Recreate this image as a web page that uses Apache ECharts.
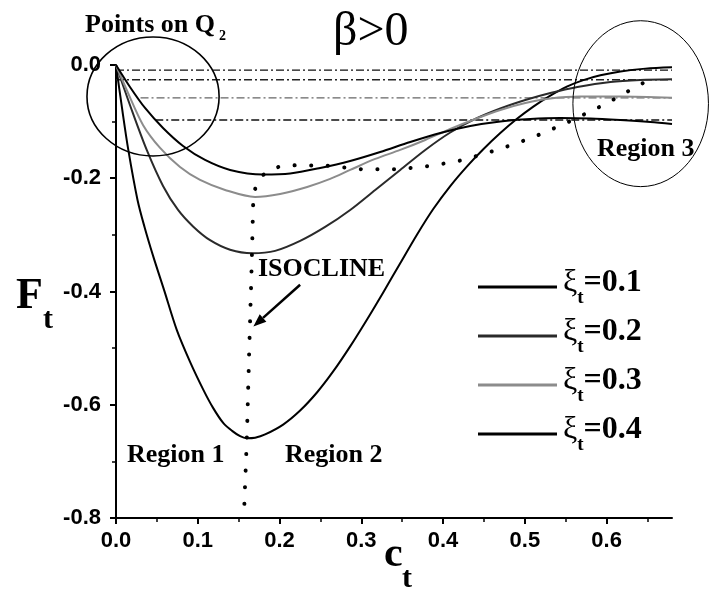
<!DOCTYPE html>
<html><head><meta charset="utf-8">
<script src="https://cdn.jsdelivr.net/npm/echarts@6/dist/echarts.min.js"></script>
<style>html,body{margin:0;padding:0;background:#fff}#c{width:710px;height:597px}</style>
</head><body><div id="c"></div>
<script>
// ---- data ----
const xiValues = ['0.1', '0.2', '0.3', '0.4'];
const c01 = [0, 0.00734, 0.01506, 0.02632, 0.03488, 0.04565, 0.05875, 0.0743, 0.09058, 0.10686, 0.11873, 0.13133, 0.14198, 0.15177, 0.15973, 0.17014, 0.18238, 0.20441, 0.22521, 0.24602, 0.26561, 0.28641, 0.30722, 0.32681, 0.34761, 0.36842, 0.388, 0.40881, 0.42962, 0.4492, 0.47001, 0.49082, 0.5104, 0.53121, 0.55202, 0.5716, 0.59241, 0.61689, 0.64749, 0.68];
const F01 = [0, -0.0759, -0.1500, -0.2383, -0.2860, -0.3384, -0.3972, -0.4678, -0.5243, -0.5737, -0.6055, -0.6325, -0.6461, -0.6554, -0.6590, -0.6581, -0.6524, -0.6350, -0.6102, -0.5779, -0.5412, -0.4969, -0.4489, -0.4016, -0.3502, -0.2989, -0.2544, -0.2138, -0.1785, -0.1488, -0.1202, -0.0946, -0.0734, -0.0540, -0.0376, -0.0267, -0.0182, -0.0113, -0.0064, -0.0041];
const c02 = [0, 0.01836, 0.03758, 0.05753, 0.07589, 0.09425, 0.11506, 0.13954, 0.16646, 0.19461, 0.22521, 0.25581, 0.28641, 0.31701, 0.34761, 0.37821, 0.40881, 0.43941, 0.47001, 0.50061, 0.53121, 0.56426, 0.60465, 0.64137, 0.68];
const F02 = [0, -0.0759, -0.1500, -0.2136, -0.2560, -0.2851, -0.3094, -0.3262, -0.3324, -0.3283, -0.3107, -0.2860, -0.2560, -0.2207, -0.1853, -0.1500, -0.1192, -0.0953, -0.0768, -0.0618, -0.0494, -0.0388, -0.0300, -0.0265, -0.0252];
const c03 = [0, 0.0147, 0.0330, 0.0539, 0.0783, 0.1028, 0.1334, 0.1701, 0.2007, 0.2338, 0.2619, 0.2864, 0.3170, 0.3476, 0.3782, 0.4088, 0.4394, 0.47, 0.5006, 0.5312, 0.5679, 0.6169, 0.68];
const F03 = [0, -0.0494, -0.1059, -0.1465, -0.1801, -0.2030, -0.2207, -0.2330, -0.2277, -0.2154, -0.2012, -0.1853, -0.1659, -0.1500, -0.1324, -0.1130, -0.0953, -0.0794, -0.0671, -0.0591, -0.0556, -0.0556, -0.0577];
const c04 = [0, 0.0171, 0.0355, 0.0575, 0.0820, 0.1089, 0.1395, 0.1799, 0.2130, 0.2497, 0.2864, 0.3231, 0.3599, 0.3966, 0.4333, 0.47, 0.5067, 0.5435, 0.5802, 0.6169, 0.6536, 0.68];
const F04 = [0, -0.0388, -0.0759, -0.1112, -0.1430, -0.1677, -0.1853, -0.1933, -0.1915, -0.1818, -0.1695, -0.1536, -0.1359, -0.1200, -0.1077, -0.0997, -0.0953, -0.0936, -0.0944, -0.0971, -0.1006, -0.1041];
const isoC = [0.157, 0.160, 0.163, 0.166, 0.168, 0.172, 0.18, 0.20, 0.22, 0.26, 0.30, 0.345, 0.386, 0.424, 0.466, 0.508, 0.55, 0.59, 0.611, 0.633, 0.657];
const isoF = [-0.775, -0.66, -0.50, -0.35, -0.23, -0.21, -0.194, -0.179, -0.177, -0.178, -0.184, -0.184, -0.178, -0.168, -0.150, -0.129, -0.103, -0.075, -0.059, -0.041, -0.022];
const asymF = [-0.009, -0.026, -0.058, -0.097];
const asymStart = [0, 0, 0.03, 0.048];
const asymEnd = 0.68;
const xTicks = [0, 0.1, 0.2, 0.3, 0.4, 0.5, 0.6];
const yTicks = [-0.8, -0.6, -0.4, -0.2, 0];

// ---- styles ----
const SERIF = '"Liberation Serif","Times New Roman",serif';
const SANS = '"Liberation Sans",Arial,sans-serif';
const curveColors = ['#000', '#2a2a2a', '#8c8c8c', '#000'];
const asymColors = ['#111', '#222', '#666', '#111'];

const zip = (a, b) => a.map((v, i) => [v, b[i]]);
const curves = [[c01, F01], [c02, F02], [c03, F03], [c04, F04]];

const series = curves.map((cv, i) => ({
  name: 'ξ=' + xiValues[i],
  type: 'line', data: zip(cv[0], cv[1]), smooth: 0.3, symbol: 'none', silent: true,
  lineStyle: { color: curveColors[i], width: 2 }, itemStyle: { color: curveColors[i] }, z: 3
}));
asymF.forEach((f, i) => series.push({
  name: 'asym' + i, type: 'line', symbol: 'none', silent: true,
  data: [[asymStart[i], f], [asymEnd, f]],
  lineStyle: { color: asymColors[i], width: i === 2 ? 1.1 : 1.4, type: [8, 3, 2, 3] }, z: 2
}));
series.push({
  name: 'isocline', type: 'line', symbol: 'none', silent: true, smooth: false,
  data: zip(isoC, isoF),
  lineStyle: { color: '#000', width: 4, type: [0.1, 16.5], cap: 'round' }, z: 4
});

const chart = echarts.init(document.getElementById('c'), null, { renderer: 'canvas' });
const option = {
  animation: false,
  backgroundColor: '#fff',
  grid: { left: 116, right: 38, top: 65, bottom: 79 },
  xAxis: {
    type: 'value', min: 0, max: 0.68, interval: 0.1,
    axisLine: { onZero: false, lineStyle: { color: '#000', width: 2 } },
    axisTick: { show: true, length: 6, lineStyle: { color: '#000', width: 2 }, customValues: xTicks },
    minorTick: { show: true, splitNumber: 2, length: 4, lineStyle: { color: '#000', width: 1.5 } },
    axisLabel: { customValues: xTicks, formatter: v => v.toFixed(1), fontFamily: SANS, fontWeight: 'bold', fontSize: 22, color: '#000', margin: 12 },
    splitLine: { show: false }
  },
  yAxis: {
    type: 'value', min: -0.8, max: 0, interval: 0.2,
    axisLine: { onZero: false, lineStyle: { color: '#000', width: 2 } },
    axisTick: { show: true, length: 6, lineStyle: { color: '#000', width: 2 }, customValues: yTicks },
    minorTick: { show: true, splitNumber: 2, length: 4, lineStyle: { color: '#000', width: 1.5 } },
    axisLabel: { customValues: yTicks, formatter: v => v.toFixed(1), fontFamily: SANS, fontWeight: 'bold', fontSize: 22, color: '#000', margin: 15 },
    splitLine: { show: false }
  },
  legend: {
    data: xiValues.map(v => 'ξ=' + v),
    orient: 'vertical', left: 473, top: 262,
    itemWidth: 79, itemHeight: 3, itemGap: 8, icon: 'rect',
    selectedMode: false,
    formatter: name => '{a|ξ}{b|t}{c|=' + name.split('=')[1] + '}',
    textStyle: {
      color: '#000',
      rich: {
        a: { fontFamily: SERIF, fontSize: 32, color: '#000', padding: [0, 0, 0, 1], verticalAlign: 'top', lineHeight: 40 },
        b: { fontFamily: SERIF, fontSize: 19, fontWeight: 'bold', color: '#000', verticalAlign: 'top', padding: [22, 0, 0, 0], lineHeight: 40 },
        c: { fontFamily: SERIF, fontSize: 32, fontWeight: 'bold', color: '#000', verticalAlign: 'top', lineHeight: 40 }
      }
    }
  },
  series: series
};
chart.setOption(option);

// ---- annotations (data-space geometry) ----
const P = (c, f) => chart.convertToPixel({ gridIndex: 0 }, [c, f]);
function ellipseAt(cc, cf, rc, rf, lw) {
  const ctr = P(cc, cf), ex = P(cc + rc, cf), ey = P(cc, cf + rf);
  return { type: 'ellipse', silent: true, z: 10,
    shape: { cx: ctr[0], cy: ctr[1], rx: Math.abs(ex[0] - ctr[0]), ry: Math.abs(ey[1] - ctr[1]) },
    style: { fill: null, stroke: '#000', lineWidth: lw } };
}
// x = left edge, base = desired baseline
function txt(text, x, base, size, weight, family) {
  return { type: 'text', silent: true, z: 10, x: x, y: base + 0.2 * size,
    style: { text: text, font: weight + ' ' + size + 'px ' + family, fill: '#000', textAlign: 'left', textVerticalAlign: 'bottom' } };
}
const a0 = P(0.2252, -0.388), a1 = P(0.168, -0.462);
const ang = Math.atan2(a1[1] - a0[1], a1[0] - a0[0]);
const hl = 13, hw = 5;
const base = [a1[0] - hl * Math.cos(ang), a1[1] - hl * Math.sin(ang)];
const arrowHead = [a1, [base[0] + hw * Math.sin(ang), base[1] - hw * Math.cos(ang)], [base[0] - hw * Math.sin(ang), base[1] + hw * Math.cos(ang)]];

chart.setOption({
  graphic: [
    ellipseAt(0.0453, -0.0556, 0.0808, 0.105, 1.6),
    ellipseAt(0.6417, -0.0683, 0.0829, 0.1465, 1),
    { type: 'line', silent: true, z: 10, shape: { x1: a0[0], y1: a0[1], x2: base[0], y2: base[1] }, style: { stroke: '#000', lineWidth: 2.5 } },
    { type: 'polygon', silent: true, z: 10, shape: { points: arrowHead }, style: { fill: '#000' } },
    txt('Points on Q', 85, 33, 26, 'bold', SERIF),
    txt('2', 219, 41, 14, 'bold', SERIF),
    txt('β>0', 333, 47, 48, 'normal', SERIF),
    txt('ISOCLINE', 258, 277, 26, 'bold', SERIF),
    txt('Region 1', 127, 463, 26, 'bold', SERIF),
    txt('Region 2', 285, 463, 26, 'bold', SERIF),
    txt('Region 3', 597, 157, 26, 'bold', SERIF),
    txt('F', 16, 310, 44, 'bold', SERIF),
    txt('t', 43, 329, 30, 'bold', SERIF),
    txt('c', 384, 568, 42, 'bold', SERIF),
    txt('t', 402, 588, 30, 'bold', SERIF)
  ]
});
</script></body></html>
